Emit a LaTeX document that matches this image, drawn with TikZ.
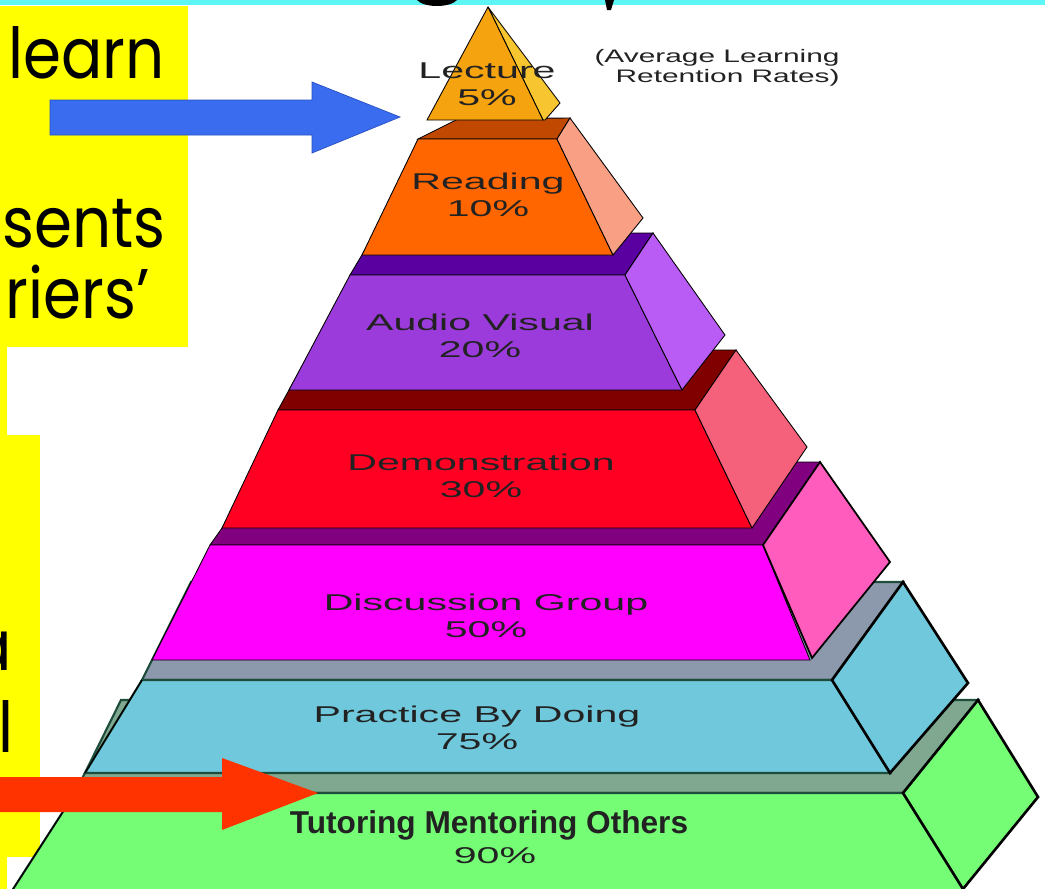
\documentclass[tikz,border=0pt]{standalone}
\usepackage{fontspec}
\setmainfont{Liberation Sans}
\newfontfamily\handfont{Poppins}
\usepackage{tikz}
\usepackage{graphicx}

\definecolor{topcyan}{HTML}{5EF5F5}
\definecolor{hlyellow}{HTML}{FFFF00}
\definecolor{arrowblue}{HTML}{3A6CF0}
\definecolor{arrowblueline}{HTML}{2850C0}
\definecolor{arrowred}{HTML}{FF3300}
\definecolor{lecfront}{HTML}{F5A30F}
\definecolor{lecside}{HTML}{F7C530}
\definecolor{readband}{HTML}{C04800}
\definecolor{readfront}{HTML}{FF6600}
\definecolor{readside}{HTML}{F9A084}
\definecolor{avband}{HTML}{5A00A0}
\definecolor{avfront}{HTML}{9B3BDB}
\definecolor{avside}{HTML}{B85CF5}
\definecolor{demoband}{HTML}{800000}
\definecolor{demofront}{HTML}{FF0022}
\definecolor{demoside}{HTML}{F5607A}
\definecolor{discband}{HTML}{800080}
\definecolor{discfront}{HTML}{FF00FF}
\definecolor{discside}{HTML}{FF5CBE}
\definecolor{pracband}{HTML}{8C98AC}
\definecolor{pracfront}{HTML}{70C8DC}
\definecolor{tutband}{HTML}{80A890}
\definecolor{tutfront}{HTML}{75FD75}
\definecolor{edgegreen}{HTML}{1E4D3C}
\definecolor{txtgray}{HTML}{222222}

\newcommand{\stretchtxt}[1]{\scalebox{1.8}[1]{#1}}
\newcommand{\handtxt}[1]{\scalebox{0.87}[1]{#1}}

\begin{document}
\begin{tikzpicture}[x=0.02cm,y=-0.02cm]
              \tikzstyle{every node}+=[inner sep=0pt]
              \tikzset{lvl/.style={font=\fontsize{13}{15.5}\selectfont,text=txtgray,align=center},
                       hand/.style={font=\handfont\fontsize{40}{40}\selectfont,anchor=base east},
                       thin edge/.style={draw=black,line width=0.5pt},
                       green edge/.style={draw=edgegreen,line width=1.2pt}}
              \useasboundingbox (0,0) rectangle (1045,889);
              \clip (0,0) rectangle (1045,889);
              \fill [white] (0,0) rectangle (1045,889);
              \fill [topcyan] (0,0) rectangle (1045,5);
              \fill [black] (417,0) .. controls (424,8) and (450,8) .. (457,0) -- cycle;
              \fill [black] (605,0) -- (614,0) -- (611,10) -- (607,10) -- cycle;
              \fill [hlyellow] (0,6) rectangle (188,347);
              \fill [hlyellow] (0,6) rectangle (7,889);
              \fill [hlyellow] (0,435) rectangle (40,857);
              \draw (165,78) node (learn) [hand] {\handtxt{learn}};
              \draw (166,247) node (sents) [hand] {\handtxt{sents}};
              \draw (150,318) node (riers) [hand] {\handtxt{riers’}};
              \draw (12,670) node (cuta) [hand] {\handtxt{a}};
              \draw (14,752) node (cutl) [hand] {\handtxt{l}};
              \filldraw [fill=tutband, green edge] (75,793) -- (121,700) -- (978,700) -- (903,793) -- cycle;
              \filldraw [fill=tutfront, green edge] (75,793) -- (903,793) -- (970,900) -- (6,900) -- cycle;
              \draw [black, line width=0.8pt] (75,793) -- (6,900);
              \filldraw [fill=tutfront, draw=black, line width=1.5pt] (903,793) -- (978,700) -- (1038,797) -- (963,889) -- cycle;
              \filldraw [fill=pracband, green edge] (142,680) -- (191,582) -- (903,582) -- (832,680) -- cycle;
              \filldraw [fill=pracfront, green edge] (142,680) -- (832,680) -- (890,773) -- (85,773) -- cycle;
              \draw [black, line width=0.8pt] (142,680) -- (85,773);
              \filldraw [fill=pracfront, draw=black, line width=1.5pt] (832,680) -- (903,582) -- (968,683) -- (890,773) -- cycle;
              \filldraw [fill=discband, thin edge] (210,545) -- (269,462) -- (820,462) -- (763,545) -- cycle;
              \filldraw [fill=discfront, thin edge] (210,545) -- (763,545) -- (810,660) -- (152,660) -- cycle;
              \filldraw [fill=discside, draw=black, line width=1pt] (763,545) -- (820,462) -- (890,562) -- (812,658) -- cycle;
              \filldraw [fill=demoband, thin edge] (278,410) -- (311,350) -- (736,350) -- (695,410) -- cycle;
              \filldraw [fill=demofront, thin edge] (278,410) -- (695,410) -- (752,528) -- (222,528) -- cycle;
              \filldraw [fill=demoside, thin edge] (695,410) -- (736,350) -- (807,447) -- (752,528) -- cycle;
              \filldraw [fill=avband, thin edge] (350,275) -- (375,233) -- (653,233) -- (625,275) -- cycle;
              \filldraw [fill=avfront, thin edge] (350,275) -- (625,275) -- (682,390) -- (289,390) -- cycle;
              \filldraw [fill=avside, thin edge] (625,275) -- (653,233) -- (725,335) -- (682,390) -- cycle;
              \filldraw [fill=readband, thin edge] (418,139) -- (458,119) -- (570,118) -- (557,139) -- cycle;
              \filldraw [fill=readfront, thin edge] (418,139) -- (557,139) -- (613,255) -- (362,255) -- cycle;
              \filldraw [fill=readside, thin edge] (557,139) -- (570,118) -- (643,218) -- (613,255) -- cycle;
              \filldraw [fill=lecside, thin edge] (488,7) -- (560,103) -- (545,120) -- (543,120) -- cycle;
              \filldraw [fill=lecfront, thin edge] (488,7) -- (543,120) -- (427,120) -- cycle;
              \filldraw [fill=arrowblue, draw=arrowblueline, line width=0.4pt] (50,100) -- (312,100) -- (312,82) -- (400,117) -- (312,153) -- (312,135) -- (50,135) -- cycle;
              \fill [arrowred] (0,777) -- (222,777) -- (222,758) -- (318,793) -- (222,830) -- (222,812) -- (0,812) -- cycle;
              \draw (487,84) node (lecture) [lvl] {\stretchtxt{Lecture}\\\stretchtxt{5\%}};
              \draw (840,68) node (note) [font=\fontsize{10.3}{11.4}\selectfont,text=txtgray,align=right,anchor=east] {\scalebox{1.65}[1]{(Average Learning}\\\scalebox{1.65}[1]{Retention Rates)}};
              \draw (488,195) node (reading) [lvl] {\stretchtxt{Reading}\\\stretchtxt{10\%}};
              \draw (480,336) node (audio) [lvl] {\stretchtxt{Audio Visual}\\\stretchtxt{20\%}};
              \draw (481,476) node (demo) [lvl] {\stretchtxt{Demonstration}\\\stretchtxt{30\%}};
              \draw (486,616) node (discuss) [lvl] {\stretchtxt{Discussion Group}\\\stretchtxt{50\%}};
              \draw (477,728) node (practice) [lvl] {\stretchtxt{Practice By Doing}\\\stretchtxt{75\%}};
              \draw (489,825) node (tutor) [font=\fontsize{18}{20}\selectfont\bfseries,text=txtgray] {Tutoring Mentoring Others};
              \draw (495,856) node (tutorpct) [lvl] {\stretchtxt{90\%}};
            \end{tikzpicture}
\end{document}
